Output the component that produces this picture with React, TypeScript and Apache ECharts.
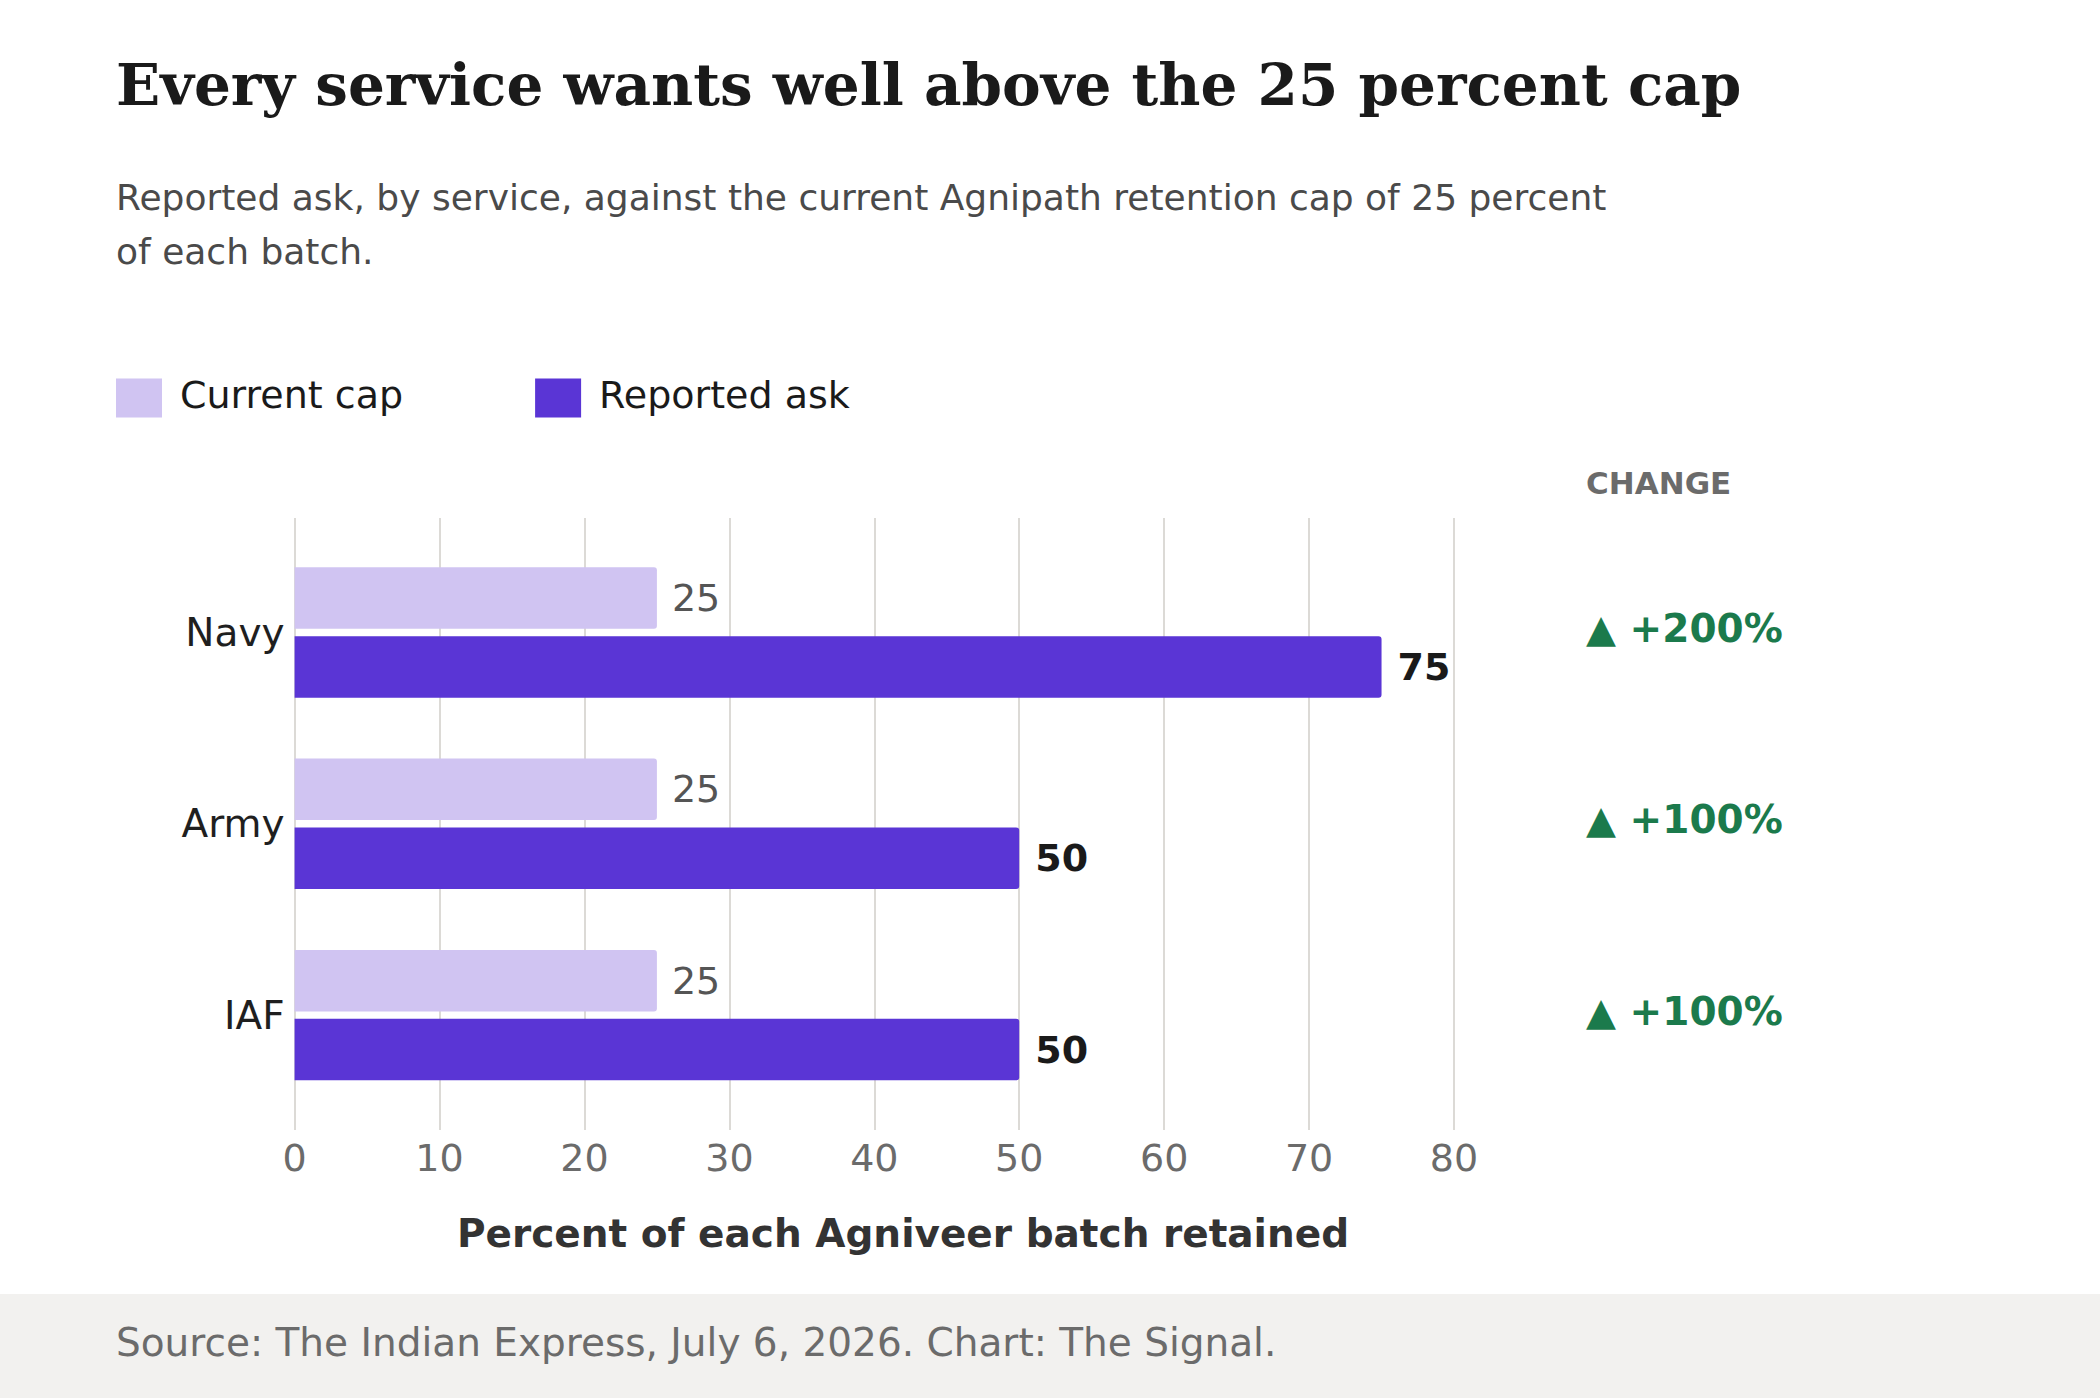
import React, { useEffect, useRef } from "react";
import * as echarts from "echarts";

// Services, top to bottom
const services = ["Navy", "Army", "IAF"];
// Current Agnipath retention cap, percent of each batch
const currentCap = [25, 25, 25];
// Reported ask by each service, percent of each batch
const reportedAsk = [75, 50, 50];
// Value-axis range and tick step
const axisMin = 0;
const axisMax = 80;
const axisStep = 10;

const changeLabels = reportedAsk.map(
  (v, i) => `▲ +${Math.round(((v - currentCap[i]) / currentCap[i]) * 100)}%`
);

const SANS = '"DejaVu Sans", Verdana, sans-serif';
const SERIF = '"DejaVu Serif", Georgia, serif';

const W = 2100;
const H = 1398;
const PLOT_LEFT = 294.6;
const PLOT_RIGHT = 1454;
const BAR_TOP = 536.85;
const BAR_HEIGHT = 573.9;

export default function App() {
  const ref = useRef<HTMLDivElement>(null);

  useEffect(() => {
    document.body.style.margin = "0";
    if (!ref.current) return;
    const chart = echarts.init(ref.current, null, { renderer: "svg" });

    const option: any = {
      animation: false,
      backgroundColor: "#ffffff",
      textStyle: { fontFamily: SANS },
      legend: {
        left: 116,
        top: 376,
        padding: 0,
        icon: "rect",
        itemWidth: 46,
        itemHeight: 39,
        itemGap: 132,
        formatter: (name: string) => `{t|${name}}`,
        textStyle: {
          fontSize: 38,
          color: "#1a1a1a",
          fontFamily: SANS,
          rich: {
            t: {
              fontSize: 38,
              color: "#1a1a1a",
              fontFamily: SANS,
              lineHeight: 36,
              padding: [0, 0, 6, 13],
            },
          },
        },
        data: ["Current cap", "Reported ask"],
      },
      grid: [
        // gridlines and value ticks
        {
          left: PLOT_LEFT,
          width: PLOT_RIGHT - PLOT_LEFT,
          top: 518,
          height: 612,
        },
        // bars
        {
          left: PLOT_LEFT,
          width: PLOT_RIGHT - PLOT_LEFT,
          top: BAR_TOP,
          height: BAR_HEIGHT,
        },
        // change column, sits a touch above the bar-group centres
        {
          left: PLOT_LEFT,
          width: PLOT_RIGHT - PLOT_LEFT,
          top: BAR_TOP - 4,
          height: BAR_HEIGHT,
        },
      ],
      xAxis: [
        {
          gridIndex: 0,
          type: "value",
          min: axisMin,
          max: axisMax,
          interval: axisStep,
          axisLine: { show: false },
          axisTick: { show: false },
          splitLine: { show: true, lineStyle: { color: "#dcdad6", width: 2 } },
          axisLabel: {
            fontSize: 38,
            color: "#6b6b6b",
            fontFamily: SANS,
            margin: 9,
          },
        },
        {
          gridIndex: 1,
          type: "value",
          min: axisMin,
          max: axisMax,
          interval: axisStep,
          show: false,
          splitLine: { show: false },
        },
        {
          gridIndex: 2,
          type: "value",
          min: axisMin,
          max: axisMax,
          interval: axisStep,
          show: false,
          splitLine: { show: false },
        },
      ],
      yAxis: [
        {
          gridIndex: 0,
          type: "category",
          data: services,
          show: false,
        },
        {
          gridIndex: 1,
          type: "category",
          data: services,
          inverse: true,
          axisLine: { show: false },
          axisTick: { show: false },
          splitLine: { show: false },
          axisLabel: {
            interval: 0,
            fontSize: 39,
            color: "#1f1f1f",
            fontFamily: SANS,
            margin: 10,
          },
        },
        {
          gridIndex: 2,
          type: "category",
          position: "right",
          data: changeLabels,
          inverse: true,
          axisLine: { show: false },
          axisTick: { show: false },
          splitLine: { show: false },
          axisLabel: {
            interval: 0,
            fontSize: 39,
            fontWeight: "bold",
            color: "#1b7a4c",
            fontFamily: SANS,
            margin: 132,
          },
        },
      ],
      series: [
        {
          name: "Current cap",
          type: "bar",
          xAxisIndex: 1,
          yAxisIndex: 1,
          data: currentCap,
          barWidth: 61.5,
          barGap: "12%",
          itemStyle: { color: "#d0c4f2", borderRadius: [0, 3, 3, 0] },
          label: {
            show: true,
            position: "right",
            distance: 15,
            fontSize: 38,
            color: "#555555",
            fontFamily: SANS,
          },
        },
        {
          name: "Reported ask",
          type: "bar",
          xAxisIndex: 1,
          yAxisIndex: 1,
          data: reportedAsk,
          barWidth: 61.5,
          barGap: "12%",
          itemStyle: { color: "#5a35d5", borderRadius: [0, 3, 3, 0] },
          label: {
            show: true,
            position: "right",
            distance: 16,
            fontSize: 38,
            fontWeight: "bold",
            color: "#1a1a1a",
            fontFamily: SANS,
          },
        },
      ],
      graphic: [
        {
          type: "text",
          x: 116,
          y: 84.5,
          style: {
            text: "Every service wants well above the 25 percent cap",
            font: `bold 58px ${SERIF}`,
            fill: "#1a1a1a",
            textAlign: "left",
            textVerticalAlign: "middle",
          },
        },
        {
          type: "text",
          x: 116,
          y: 197.5,
          style: {
            text: "Reported ask, by service, against the current Agnipath retention cap of 25 percent",
            font: `36px ${SANS}`,
            fill: "#4a4a4a",
            textAlign: "left",
            textVerticalAlign: "middle",
          },
        },
        {
          type: "text",
          x: 116,
          y: 251,
          style: {
            text: "of each batch.",
            font: `36px ${SANS}`,
            fill: "#4a4a4a",
            textAlign: "left",
            textVerticalAlign: "middle",
          },
        },
        {
          type: "text",
          x: 1586,
          y: 483,
          style: {
            text: "CHANGE",
            font: `bold 31px ${SANS}`,
            fill: "#6b6b6b",
            textAlign: "left",
            textVerticalAlign: "middle",
          },
        },
        {
          type: "text",
          x: 903,
          y: 1233,
          style: {
            text: "Percent of each Agniveer batch retained",
            font: `bold 39px ${SANS}`,
            fill: "#333333",
            textAlign: "center",
            textVerticalAlign: "middle",
          },
        },
        {
          type: "rect",
          shape: { x: 0, y: 1294, width: W, height: H - 1294 },
          style: { fill: "#f2f1ef" },
          z: -1,
        },
        {
          type: "text",
          x: 116,
          y: 1342.5,
          style: {
            text: "Source: The Indian Express, July 6, 2026. Chart: The Signal.",
            font: `39px ${SANS}`,
            fill: "#6b6b6b",
            textAlign: "left",
            textVerticalAlign: "middle",
          },
        },
      ],
    };

    chart.setOption(option);
    return () => chart.dispose();
  }, []);

  return <div ref={ref} style={{ width: W, height: H }} />;
}
